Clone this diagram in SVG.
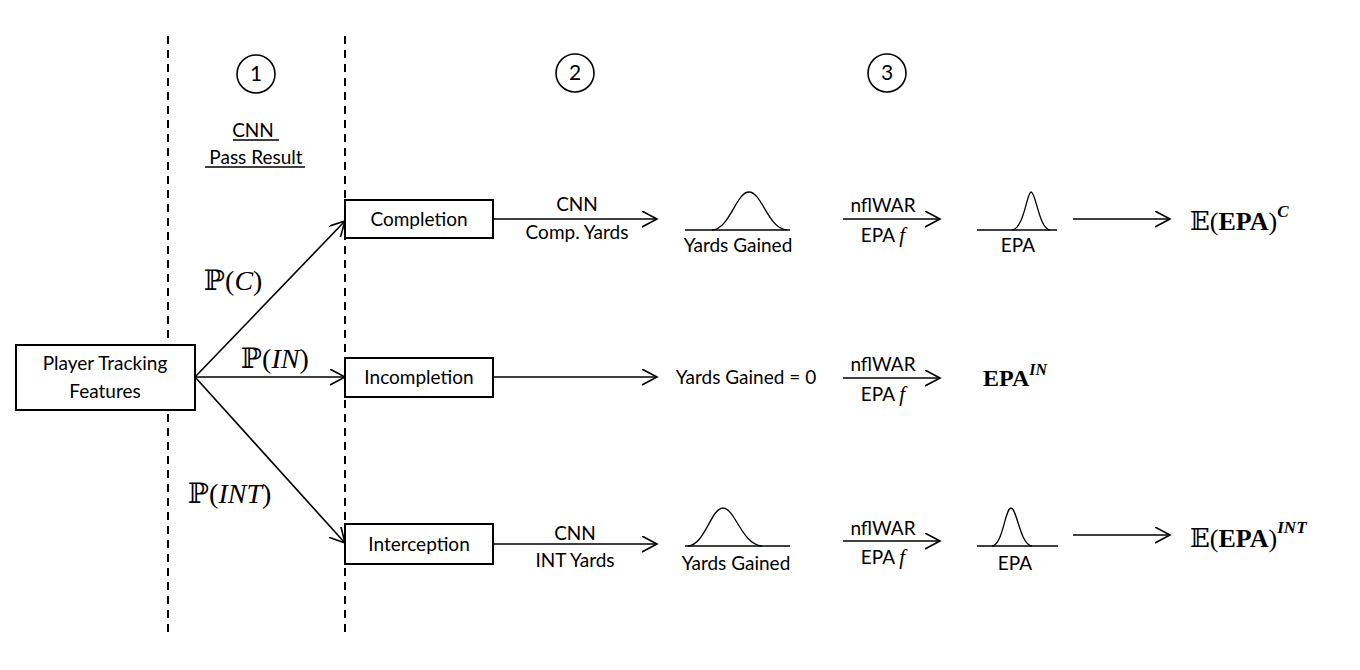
<svg xmlns="http://www.w3.org/2000/svg" width="1360" height="670" viewBox="0 0 1360 670">
<style>
.t{font-family:Lato,"Open Sans","Liberation Sans",sans-serif;font-size:19px;fill:#000;text-anchor:middle}
.m{font-family:"Liberation Serif","DejaVu Serif",serif;font-size:28px;fill:#000}
.bb{font-family:"DejaVu Serif","DejaVu Sans",serif}
.box{fill:#fff;stroke:#000;stroke-width:2}
.ln{fill:none;stroke:#000;stroke-width:1.6}
.dash{fill:none;stroke:#000;stroke-width:2;stroke-dasharray:8 6}
.circ{fill:none;stroke:#000;stroke-width:1.6}
.curve{fill:none;stroke:#000;stroke-width:1.3}
</style>
<defs>
<marker id="arr" markerUnits="userSpaceOnUse" markerWidth="18" markerHeight="18" refX="15" refY="8" orient="auto">
<path d="M0,0 L15,8 L0,16" fill="none" stroke="#000" stroke-width="1.6"/>
</marker>
</defs>
<rect width="1360" height="670" fill="#fff"/>

<g id="guides">
<line class="dash" x1="168" y1="36" x2="168" y2="636"/>
<line class="dash" x1="345" y1="36" x2="345" y2="636"/>
</g>

<g id="step1">
<circle class="circ" cx="256" cy="74" r="19"/>
<text class="t" x="256" y="81" style="font-size:21px">1</text>
<text class="t" x="253" y="137">CNN</text>
<line x1="233" y1="140" x2="279" y2="140" stroke="#000" stroke-width="1.6"/>
<text class="t" x="256" y="164">Pass Result</text>
<line x1="205" y1="167" x2="305" y2="167" stroke="#000" stroke-width="1.6"/>
</g>
<g id="step2">
<circle class="circ" cx="575" cy="73" r="19"/>
<text class="t" x="575" y="80" style="font-size:21px">2</text>
</g>
<g id="step3">
<circle class="circ" cx="887" cy="73" r="19"/>
<text class="t" x="887" y="80" style="font-size:21px">3</text>
</g>

<g id="connectors">
<line class="ln" x1="195" y1="377" x2="345" y2="221" marker-end="url(#arr)"/>
<line class="ln" x1="195" y1="377" x2="345" y2="377" marker-end="url(#arr)"/>
<line class="ln" x1="195" y1="377" x2="345" y2="543" marker-end="url(#arr)"/>
<line class="ln" x1="493" y1="219" x2="657" y2="219" marker-end="url(#arr)"/>
<line class="ln" x1="493" y1="377" x2="657" y2="377" marker-end="url(#arr)"/>
<line class="ln" x1="493" y1="544" x2="657" y2="544" marker-end="url(#arr)"/>
<line class="ln" x1="843" y1="219" x2="940" y2="219" marker-end="url(#arr)"/>
<line class="ln" x1="843" y1="378" x2="940" y2="378" marker-end="url(#arr)"/>
<line class="ln" x1="843" y1="541" x2="940" y2="541" marker-end="url(#arr)"/>
<line class="ln" x1="1073" y1="219" x2="1170" y2="219" marker-end="url(#arr)"/>
<line class="ln" x1="1073" y1="535" x2="1170" y2="535" marker-end="url(#arr)"/>
</g>

<g id="edge-labels">
<text class="m" x="204" y="290"><tspan class="bb">ℙ</tspan>(<tspan font-style="italic">C</tspan>)</text>
<text class="m" x="241" y="368"><tspan class="bb">ℙ</tspan>(<tspan font-style="italic">IN</tspan>)</text>
<text class="m" x="188" y="503"><tspan class="bb">ℙ</tspan>(<tspan font-style="italic">INT</tspan>)</text>
<text class="t" x="577" y="211">CNN</text>
<text class="t" x="577" y="239">Comp. Yards</text>
<text class="t" x="575" y="540">CNN</text>
<text class="t" x="575" y="567">INT Yards</text>
<text class="t" x="883" y="212">nflWAR</text>
<text class="t" x="883" y="242">EPA <tspan font-family="'Liberation Serif',serif" font-style="italic" font-size="21">f</tspan></text>
<text class="t" x="883" y="371">nflWAR</text>
<text class="t" x="883" y="401">EPA <tspan font-family="'Liberation Serif',serif" font-style="italic" font-size="21">f</tspan></text>
<text class="t" x="883" y="535">nflWAR</text>
<text class="t" x="883" y="564">EPA <tspan font-family="'Liberation Serif',serif" font-style="italic" font-size="21">f</tspan></text>
</g>

<g id="player-tracking">
<rect class="box" x="16" y="345" width="179" height="65"/>
<text class="t" x="105" y="370">Player Tracking</text>
<text class="t" x="105" y="398">Features</text>
</g>
<g id="completion">
<rect class="box" x="345" y="200" width="148" height="38"/>
<text class="t" x="419" y="226">Completion</text>
</g>
<g id="incompletion">
<rect class="box" x="345" y="358" width="148" height="39"/>
<text class="t" x="419" y="384">Incompletion</text>
</g>
<g id="interception">
<rect class="box" x="345" y="524" width="148" height="40"/>
<text class="t" x="419" y="551">Interception</text>
</g>

<g id="yards-c">
<line x1="685" y1="230" x2="790" y2="230" stroke="#000" stroke-width="1.3"/>
<path class="curve" d="M712,230 C730,229 736,192 749,192 C762,192 768,229 787,230"/>
<text class="t" x="738" y="252">Yards Gained</text>
</g>
<g id="epa-c">
<line x1="977" y1="230" x2="1057" y2="230" stroke="#000" stroke-width="1.3"/>
<path class="curve" d="M1012,230 C1024,229 1027,192 1031,192 C1036,192 1039,229 1050,230"/>
<text class="t" x="1018" y="252">EPA</text>
</g>
<g id="result-c">
<text class="m" x="1190" y="230" style="font-size:26px"><tspan class="bb">𝔼</tspan>(<tspan font-weight="bold">EPA</tspan>)<tspan font-weight="bold" font-style="italic" font-size="17" dy="-13">C</tspan></text>
</g>

<g id="yards-in">
<text class="t" x="746" y="384">Yards Gained = 0</text>
</g>
<g id="result-in">
<text class="m" x="983" y="386" style="font-size:24px"><tspan font-weight="bold">EPA</tspan><tspan font-weight="bold" font-style="italic" font-size="16" dy="-11">IN</tspan></text>
</g>

<g id="yards-int">
<line x1="685" y1="546" x2="790" y2="546" stroke="#000" stroke-width="1.3"/>
<path class="curve" d="M688,546 C705,545 711,508 723,508 C735,508 742,545 762,546"/>
<text class="t" x="736" y="570">Yards Gained</text>
</g>
<g id="epa-int">
<line x1="977" y1="546" x2="1058" y2="546" stroke="#000" stroke-width="1.3"/>
<path class="curve" d="M992,546 C1003,545 1005,508 1011,508 C1017,508 1020,545 1032,546"/>
<text class="t" x="1015" y="570">EPA</text>
</g>
<g id="result-int">
<text class="m" x="1190" y="547" style="font-size:26px"><tspan class="bb">𝔼</tspan>(<tspan font-weight="bold">EPA</tspan>)<tspan font-weight="bold" font-style="italic" font-size="17" dy="-14">INT</tspan></text>
</g>
</svg>
